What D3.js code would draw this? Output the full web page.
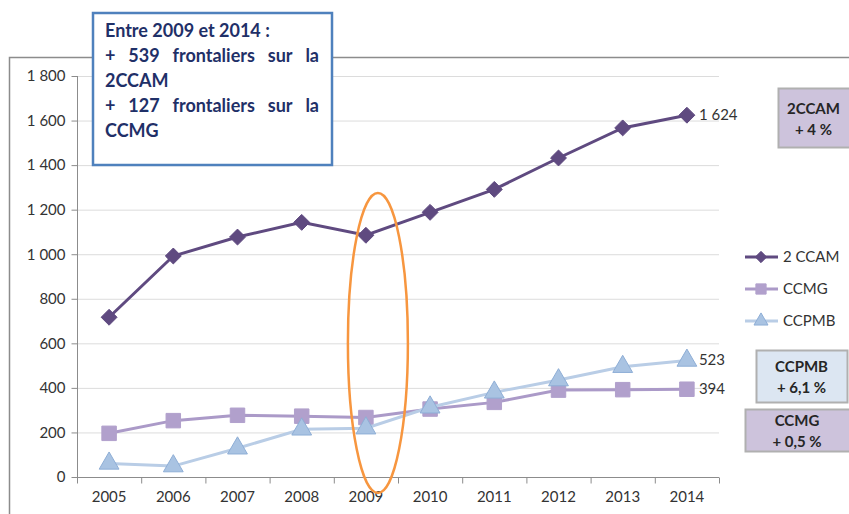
<!DOCTYPE html>
<html>
<head>
<meta charset="utf-8">
<script src="https://cdn.jsdelivr.net/npm/d3@7"></script>
<style>
body { margin: 0; background: #fff; }
svg { display: block; font-family: Lato, "Open Sans", sans-serif; }
</style>
</head>
<body>
<svg id="chart" width="849" height="514"></svg>
<script>
// data
var years = ["2005", "2006", "2007", "2008", "2009", "2010", "2011", "2012", "2013", "2014"]
var ccam = [717, 992, 1077, 1143, 1085, 1188, 1291, 1432, 1567, 1624]
var ccmg = [196, 253, 277, 273, 267, 305, 335, 390, 392, 394]
var ccpmb = [61, 49, 129, 214, 219, 313, 380, 435, 495, 523]
var yTicks = [0, 200, 400, 600, 800, 1000, 1200, 1400, 1600, 1800]

var noteLines = ["Entre 2009 et 2014 :", "+ 539 frontaliers  sur la", "2CCAM", "+ 127 frontaliers sur la", "CCMG"]
var noteJustify = [false, true, false, true, false]

// excel style diamond: a square turned 45 degrees
var diamond = {
    draw: function (ctx, size) {
        var r = Math.sqrt(size) / 2 * 1.3
        ctx.moveTo(0, -r); ctx.lineTo(r, 0); ctx.lineTo(0, r); ctx.lineTo(-r, 0); ctx.closePath()
    }
}

var series = [
    {name: "2 CCAM", values: ccam, line: "#5f4a80", fill: "#5f4a80", stroke: "#5f4a80", shape: diamond, size: 150},
    {name: "CCMG", values: ccmg, line: "#ab9ac8", fill: "#b1a0cc", stroke: "#b1a0cc", shape: d3.symbolSquare, size: 210},
    {name: "CCPMB", values: ccpmb, line: "#b9cde6", fill: "#a9c3e2", stroke: "#8eaed6", shape: d3.symbolTriangle, size: 170}
]

var boxes = [
    {lines: ["2CCAM", "+ 4 %"], x: 778, y: 88, w: 72, h: 59, fill: "#cdc3dc"},
    {lines: ["CCPMB", "+ 6,1 %"], x: 756, y: 350, w: 91, h: 52, fill: "#dce6f2"},
    {lines: ["CCMG", "+ 0,5 %"], x: 745, y: 409, w: 105, h: 42, fill: "#cdc3dc"}
]

var fmt = d3.formatLocale({decimal: ",", thousands: " ", grouping: [3], currency: ["", ""]}).format(",d")

var svg = d3.select("#chart")

// outer frame of the chart
svg.append("path")
    .attr("d", "M9.5,514 V57.5 H849")
    .attr("fill", "none")
    .attr("stroke", "#8c8c8c")
    .attr("stroke-width", 1.5)

var x = d3.scaleBand().domain(years).range([77, 719])
var y = d3.scaleLinear().domain([0, 1800]).range([477, 76])

// gridlines
svg.append("g").selectAll("line")
    .data(yTicks.filter(d => d > 0))
    .join("line")
    .attr("x1", 77).attr("x2", 719)
    .attr("y1", d => y(d) + 0.5).attr("y2", d => y(d) + 0.5)
    .attr("stroke", "#dcdcdc")

// y axis
var yAxis = svg.append("g")
    .attr("transform", "translate(77.5,0)")
    .call(d3.axisLeft(y).tickValues(yTicks).tickFormat(fmt).tickSize(6).tickPadding(6))
yAxis.select(".domain").attr("stroke", "#8c8c8c").attr("d", "M0,76V477")
yAxis.selectAll(".tick line").attr("stroke", "#8c8c8c")
yAxis.selectAll("text").attr("font-size", 15).attr("fill", "#333").attr("font-family", "Lato")

// x axis
var xAxis = svg.append("g")
    .attr("transform", "translate(0,477.5)")
    .call(d3.axisBottom(x).tickSize(0).tickPadding(14))
xAxis.select(".domain").attr("stroke", "#8c8c8c").attr("d", "M77,0H719")
xAxis.selectAll("text").attr("font-size", 15).attr("fill", "#333").attr("font-family", "Lato")
xAxis.append("g").selectAll("line")
    .data(d3.range(years.length + 1))
    .join("line")
    .attr("x1", i => 77.5 + i * x.bandwidth()).attr("x2", i => 77.5 + i * x.bandwidth())
    .attr("y1", 0).attr("y2", 6)
    .attr("stroke", "#8c8c8c")

var cx = d => x(d) + x.bandwidth() / 2

// lines and markers
series.forEach(s => {
    var pts = years.map((yr, i) => [cx(yr), y(s.values[i])])
    svg.append("path")
        .attr("d", d3.line()(pts))
        .attr("fill", "none")
        .attr("stroke", s.line)
        .attr("stroke-width", 3)
    svg.append("g").selectAll("path")
        .data(pts)
        .join("path")
        .attr("transform", d => `translate(${d[0]},${d[1]})`)
        .attr("d", d3.symbol().type(s.shape).size(s.size))
        .attr("fill", s.fill)
        .attr("stroke", s.stroke)
        .attr("stroke-width", 1)
})

// end labels
var last = years[years.length - 1]
series.forEach(s => {
    var v = s.values[s.values.length - 1]
    svg.append("text")
        .attr("x", cx(last) + 12)
        .attr("y", y(v) + 5)
        .attr("font-size", 15)
        .attr("fill", "#333")
        .text(fmt(v))
})

// orange ellipse round 2009
svg.append("ellipse")
    .attr("cx", cx("2009") + 12)
    .attr("cy", 343)
    .attr("rx", 30)
    .attr("ry", 150)
    .attr("fill", "none")
    .attr("stroke", "#f7963f")
    .attr("stroke-width", 2.5)

// legend
var legend = svg.append("g")
series.forEach((s, i) => {
    var ly = 257 + i * 32
    legend.append("line")
        .attr("x1", 745).attr("x2", 778)
        .attr("y1", ly).attr("y2", ly)
        .attr("stroke", s.line).attr("stroke-width", 3)
    legend.append("path")
        .attr("transform", `translate(761,${ly})`)
        .attr("d", d3.symbol().type(s.shape).size(s.size * 0.5))
        .attr("fill", s.fill).attr("stroke", s.stroke)
    legend.append("text")
        .attr("x", 783).attr("y", ly + 5)
        .attr("font-size", 15).attr("fill", "#333")
        .text(s.name)
})

// annotation boxes on the right
boxes.forEach(b => {
    svg.append("rect")
        .attr("x", b.x + 0.5).attr("y", b.y + 0.5)
        .attr("width", b.w).attr("height", b.h)
        .attr("fill", b.fill)
        .attr("stroke", "#b0b0b0").attr("stroke-width", 2)
    var mid = b.x + Math.min(b.w, 849 - b.x) / 2
    b.lines.forEach((t, i) => {
        svg.append("text")
            .attr("x", mid)
            .attr("y", b.y + b.h / 2 - 4 + i * 21)
            .attr("text-anchor", "middle")
            .attr("font-size", 15)
            .attr("font-weight", "bold")
            .attr("fill", "#262626")
            .text(t)
    })
})

// note box top left
svg.append("rect")
    .attr("x", 93).attr("y", 13)
    .attr("width", 239).attr("height", 152)
    .attr("fill", "#fff")
    .attr("stroke", "#4f81bd")
    .attr("stroke-width", 2.5)

var left = 105, right = 319
noteLines.forEach((line, i) => {
    var ty = 37 + i * 25
    if (!noteJustify[i]) {
        svg.append("text")
            .attr("x", left).attr("y", ty)
            .attr("font-size", 18).attr("font-weight", "bold")
            .attr("fill", "#1f3068")
            .text(line)
        return
    }
    // justified: spread the words across the box
    var words = line.split(/\s+/)
    var nodes = words.map(w => svg.append("text")
        .attr("y", ty)
        .attr("font-size", 18).attr("font-weight", "bold")
        .attr("fill", "#1f3068")
        .text(w))
    var widths = nodes.map(n => n.node().getComputedTextLength())
    var gap = (right - left - d3.sum(widths)) / (words.length - 1)
    var pos = left
    nodes.forEach((n, k) => {
        n.attr("x", pos)
        pos += widths[k] + gap
    })
})
</script>
</body>
</html>
